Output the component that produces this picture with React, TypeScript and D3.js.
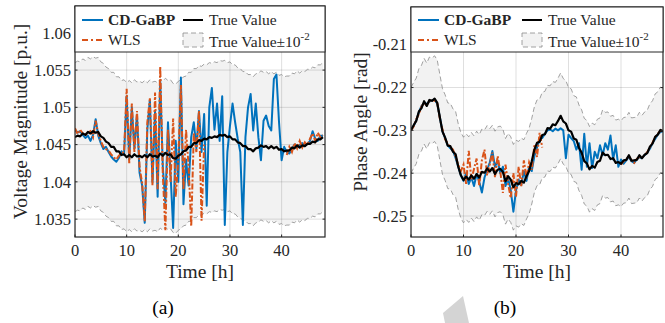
import React, { useEffect, useRef } from 'react'
import * as d3 from 'd3'

// every series is sampled each half hour, t = 0 ... 48 h
const STEP_H = 0.5
const BAND = 0.01 // legend: True Value ± 10^-2

// (a) voltage magnitude [p.u.]
const vmTrue = [
  1.0460, 1.0462, 1.0461, 1.0465, 1.0463, 1.0467, 1.0465, 1.0468, 1.0466, 1.0467,
  1.0461, 1.0459, 1.0454, 1.0452, 1.0447, 1.0447, 1.0441, 1.0441, 1.0436, 1.0437,
  1.0433, 1.0436, 1.0433, 1.0437, 1.0434, 1.0435, 1.0433, 1.0436, 1.0433, 1.0437,
  1.0434, 1.0435, 1.0433, 1.0438, 1.0435, 1.0439, 1.0436, 1.0437, 1.0432, 1.0431,
  1.0435, 1.0437, 1.0441, 1.0442, 1.0447, 1.0447, 1.0452, 1.0452, 1.0456, 1.0455,
  1.0458, 1.0457, 1.0460, 1.0459, 1.0461, 1.0460, 1.0463, 1.0462, 1.0463, 1.0460,
  1.0461, 1.0457, 1.0457, 1.0453, 1.0452, 1.0448, 1.0448, 1.0444, 1.0444, 1.0441,
  1.0445, 1.0446, 1.0449, 1.0447, 1.0448, 1.0445, 1.0448, 1.0445, 1.0447, 1.0443,
  1.0444, 1.0441, 1.0442, 1.0442, 1.0446, 1.0445, 1.0449, 1.0446, 1.0449, 1.0448,
  1.0451, 1.0451, 1.0454, 1.0453, 1.0457, 1.0457, 1.0460,
]
const vmGabp = [
  1.0470, 1.0466, 1.0468, 1.0463, 1.0459, 1.0462, 1.0455, 1.0463, 1.0484, 1.0462,
  1.0452, 1.0444, 1.0447, 1.0440, 1.0434, 1.0430, 1.0427, 1.0432, 1.0441, 1.0436,
  1.0515, 1.0430, 1.0500, 1.0445, 1.0490, 1.0412, 1.0395, 1.0345, 1.0470, 1.0510,
  1.0400, 1.0495, 1.0380, 1.0535, 1.0420, 1.0372, 1.0480, 1.0410, 1.0338, 1.0455,
  1.0400, 1.0540, 1.0370, 1.0430, 1.0395, 1.0460, 1.0480, 1.0445, 1.0495, 1.0440,
  1.0491, 1.0368, 1.0500, 1.0526, 1.0470, 1.0505, 1.0455, 1.0515, 1.0342, 1.0440,
  1.0475, 1.0505, 1.0480, 1.0458, 1.0440, 1.0342, 1.0460, 1.0500, 1.0518, 1.0469,
  1.0505, 1.0460, 1.0429, 1.0482, 1.0489, 1.0475, 1.0469, 1.0538, 1.0544, 1.0480,
  1.0429, 1.0447, 1.0440, 1.0438, 1.0444, 1.0450, 1.0446, 1.0449, 1.0452, 1.0448,
  1.0451, 1.0455, 1.0468, 1.0458, 1.0455, 1.0462, 1.0462,
]
// WLS has no estimate between 25.5 h and 40.5 h
const vmWls: (number | null)[] = [
  1.0472, 1.0464, 1.0470, 1.0465, 1.0462, 1.0466, 1.0468, 1.0460, 1.0482, 1.0465,
  1.0455, 1.0447, 1.0444, 1.0442, 1.0437, 1.0433, 1.0430, 1.0435, 1.0438, 1.0440,
  1.0525, 1.0425, 1.0505, 1.0440, 1.0495, 1.0420, 1.0398, 1.0347, 1.0480, 1.0512,
  1.0395, 1.0520, 1.0390, 1.0555, 1.0410, 1.0335, 1.0470, 1.0400, 1.0485, 1.0380,
  1.0430, 1.0530, 1.0390, 1.0470, 1.0420, 1.0340, 1.0465, 1.0440, 1.0495, 1.0348,
  1.0450, ...Array(31).fill(null),
  1.0436, 1.0447, 1.0440, 1.0452, 1.0445, 1.0455, 1.0446, 1.0453,
  1.0449, 1.0458, 1.0465, 1.0455, 1.0466, 1.0460, 1.0463,
]

// (b) phase angle [rad]
const paTrue = [
  -0.2300, -0.2288, -0.2278, -0.2256, -0.2248, -0.2232, -0.2243, -0.2229, -0.2231, -0.2226,
  -0.2236, -0.2270, -0.2303, -0.2317, -0.2336, -0.2337, -0.2350, -0.2356, -0.2385, -0.2405,
  -0.2416, -0.2408, -0.2415, -0.2405, -0.2413, -0.2402, -0.2410, -0.2397, -0.2399, -0.2389,
  -0.2396, -0.2388, -0.2402, -0.2392, -0.2390, -0.2397, -0.2419, -0.2407, -0.2415, -0.2433,
  -0.2423, -0.2426, -0.2418, -0.2422, -0.2407, -0.2395, -0.2372, -0.2345, -0.2329, -0.2327,
  -0.2311, -0.2309, -0.2295, -0.2296, -0.2286, -0.2288, -0.2278, -0.2266, -0.2279, -0.2284,
  -0.2300, -0.2303, -0.2319, -0.2322, -0.2341, -0.2352, -0.2372, -0.2377, -0.2391, -0.2383,
  -0.2387, -0.2374, -0.2371, -0.2352, -0.2358, -0.2357, -0.2367, -0.2365, -0.2376, -0.2374,
  -0.2378, -0.2370, -0.2369, -0.2358, -0.2371, -0.2370, -0.2369, -0.2358, -0.2365, -0.2357,
  -0.2353, -0.2338, -0.2331, -0.2315, -0.2310, -0.2299, -0.2302,
]
const paGabp = [
  -0.2298, -0.2290, -0.2276, -0.2258, -0.2243, -0.2237, -0.2238, -0.2233, -0.2230, -0.2228,
  -0.2238, -0.2270, -0.2302, -0.2318, -0.2335, -0.2342, -0.2348, -0.2365, -0.2385, -0.2405,
  -0.2418, -0.2400, -0.2425, -0.2410, -0.2430, -0.2402, -0.2420, -0.2445, -0.2410, -0.2392,
  -0.2375, -0.2348, -0.2385, -0.2370, -0.2400, -0.2385, -0.2430, -0.2412, -0.2440, -0.2490,
  -0.2440, -0.2415, -0.2428, -0.2395, -0.2418, -0.2385, -0.2395, -0.2360, -0.2340, -0.2320,
  -0.2318, -0.2308, -0.2300, -0.2298, -0.2302, -0.2296, -0.2300, -0.2295, -0.2300, -0.2365,
  -0.2310, -0.2318, -0.2325, -0.2345, -0.2330, -0.2392, -0.2308, -0.2385, -0.2330, -0.2388,
  -0.2350, -0.2365, -0.2335, -0.2358, -0.2330, -0.2345, -0.2312, -0.2368, -0.2335, -0.2385,
  -0.2368, -0.2378, -0.2370, -0.2362, -0.2372, -0.2376, -0.2368, -0.2363, -0.2365, -0.2358,
  -0.2352, -0.2343, -0.2330, -0.2320, -0.2310, -0.2304, -0.2302,
]
const paWls: (number | null)[] = [
  -0.2300, -0.2291, -0.2274, -0.2262, -0.2244, -0.2236, -0.2242, -0.2231, -0.2229, -0.2231,
  -0.2236, -0.2273, -0.2298, -0.2321, -0.2331, -0.2340, -0.2345, -0.2362, -0.2380, -0.2395,
  -0.2380, -0.2425, -0.2348, -0.2415, -0.2390, -0.2366, -0.2430, -0.2370, -0.2345, -0.2405,
  -0.2380, -0.2352, -0.2410, -0.2360, -0.2395, -0.2446, -0.2380, -0.2425, -0.2458, -0.2400,
  -0.2455, -0.2385, -0.2430, -0.2370, -0.2412, -0.2375, -0.2392, -0.2335, -0.2362, -0.2306,
  -0.2340, ...Array(29).fill(null),
  -0.2380, -0.2372, -0.2368, -0.2360, -0.2370, -0.2376, -0.2367, -0.2362, -0.2364, -0.2358,
  -0.2351, -0.2340, -0.2329, -0.2316, -0.2308, -0.2301, -0.2299,
]

const timeTicks = [0, 10, 20, 30, 40]
const vmTicks = [1.035, 1.04, 1.045, 1.05, 1.055, 1.06]
const vmTickLabels = ['1.035', '1.04', '1.045', '1.05', '1.055', '1.06']
const paTicks = [-0.25, -0.24, -0.23, -0.22, -0.21]
const paTickLabels = ['-0.25', '-0.24', '-0.23', '-0.22', '-0.21']

const BLUE = '#0072BD', ORANGE = '#D95319', AXIS = '#262626'
const FONT = '"Liberation Serif", "Times New Roman", serif'

const panels = [
  { left: 75, right: 325, top: 6, bottom: 237, xMax: 48.4, yDom: [1.0326, 1.0636],
    truth: vmTrue, gabp: vmGabp, wls: vmWls, ticks: vmTicks, tickLabels: vmTickLabels,
    yLabel: 'Voltage Magnitude [p.u.]', yLabelX: 27, tag: '(a)', tagX: 163, col2: 108 },
  { left: 411, right: 663, top: 7, bottom: 237, xMax: 48, yDom: [-0.2549, -0.2012],
    truth: paTrue, gabp: paGabp, wls: paWls, ticks: paTicks, tickLabels: paTickLabels,
    yLabel: 'Phase Angle [rad]', yLabelX: 367, tag: '(b)', tagX: 505, col2: 111 },
]

function drawPanel(svg, p, idx) {
  const x = d3.scaleLinear().domain([0, p.xMax]).range([p.left, p.right])
  const y = d3.scaleLinear().domain(p.yDom).range([p.bottom, p.top])
  const g = svg.append('g')
  const clipId = `clip${idx}`
  g.append('clipPath').attr('id', clipId).append('rect')
    .attr('x', p.left).attr('y', p.top).attr('width', p.right - p.left).attr('height', p.bottom - p.top)

  g.append('rect').attr('x', p.left).attr('y', p.top).attr('width', p.right - p.left)
    .attr('height', p.bottom - p.top).attr('fill', '#fff')

  const plot = g.append('g').attr('clip-path', `url(#${clipId})`)
  const tx = (_, i) => x(i * STEP_H)

  // band
  plot.append('path').datum(p.truth)
    .attr('d', d3.area().x(tx).y0(d => y(d - BAND)).y1(d => y(d + BAND)))
    .attr('fill', '#f2f2f2')

  // grid
  plot.selectAll('.gx').data(timeTicks).join('line')
    .attr('x1', d => x(d)).attr('x2', d => x(d)).attr('y1', p.top).attr('y2', p.bottom)
    .attr('stroke', 'rgba(38,38,38,0.15)').attr('stroke-width', 1)
  plot.selectAll('.gy').data(p.ticks).join('line')
    .attr('y1', d => y(d)).attr('y2', d => y(d)).attr('x1', p.left).attr('x2', p.right)
    .attr('stroke', 'rgba(38,38,38,0.15)').attr('stroke-width', 1)

  for (const s of [1, -1]) {
    plot.append('path').datum(p.truth)
      .attr('d', d3.line().x(tx).y(d => y(d + s * BAND)))
      .attr('fill', 'none').attr('stroke', '#8a8a8a').attr('stroke-width', 0.8)
      .attr('stroke-dasharray', '5 3')
  }

  const line = d3.line().defined(d => d != null).x(tx).y(d => y(d))
  plot.append('path').datum(p.gabp).attr('d', line)
    .attr('fill', 'none').attr('stroke', BLUE).attr('stroke-width', 2).attr('stroke-linejoin', 'round')
  plot.append('path').datum(p.wls).attr('d', line)
    .attr('fill', 'none').attr('stroke', ORANGE).attr('stroke-width', 2).attr('stroke-dasharray', '6 2 2 2')
  plot.append('path').datum(p.truth).attr('d', line)
    .attr('fill', 'none').attr('stroke', '#000').attr('stroke-width', 2.2).attr('stroke-linejoin', 'round')

  // ticks (inward, all four sides)
  const tl = 2.5
  timeTicks.forEach(t => {
    g.append('line').attr('x1', x(t)).attr('x2', x(t)).attr('y1', p.bottom).attr('y2', p.bottom - tl).attr('stroke', AXIS)
    g.append('line').attr('x1', x(t)).attr('x2', x(t)).attr('y1', p.top).attr('y2', p.top + tl).attr('stroke', AXIS)
    g.append('text').attr('x', x(t)).attr('y', 256).attr('text-anchor', 'middle')
      .attr('font-family', FONT).attr('font-size', 16.5).attr('fill', AXIS).text(t)
  })
  p.ticks.forEach((t, i) => {
    g.append('line').attr('x1', p.left).attr('x2', p.left + tl).attr('y1', y(t)).attr('y2', y(t)).attr('stroke', AXIS)
    g.append('line').attr('x1', p.right).attr('x2', p.right - tl).attr('y1', y(t)).attr('y2', y(t)).attr('stroke', AXIS)
    g.append('text').attr('x', p.left - 4).attr('y', y(t)).attr('dy', '0.35em').attr('text-anchor', 'end')
      .attr('font-family', FONT).attr('font-size', 16.5).attr('fill', AXIS).text(p.tickLabels[i])
  })

  g.append('rect').attr('x', p.left).attr('y', p.top).attr('width', p.right - p.left)
    .attr('height', p.bottom - p.top).attr('fill', 'none').attr('stroke', AXIS).attr('stroke-width', 1.2)

  // legend
  const lg = g.append('g')
  lg.append('rect').attr('x', p.left).attr('y', p.top).attr('width', p.right - p.left)
    .attr('height', 52 - p.top).attr('fill', '#fff').attr('stroke', AXIS).attr('stroke-width', 1)
  const c1 = p.left + 7, c2 = p.left + p.col2
  lg.append('line').attr('x1', c1).attr('x2', c1 + 21).attr('y1', 20).attr('y2', 20)
    .attr('stroke', BLUE).attr('stroke-width', 2)
  lg.append('text').attr('x', c1 + 26).attr('y', 25).attr('font-family', FONT).attr('font-size', 15.5)
    .attr('font-weight', 'bold').attr('fill', AXIS).text('CD-GaBP')
  lg.append('line').attr('x1', c1).attr('x2', c1 + 21).attr('y1', 40).attr('y2', 40)
    .attr('stroke', ORANGE).attr('stroke-width', 2).attr('stroke-dasharray', '6 3 2 3')
  lg.append('text').attr('x', c1 + 26).attr('y', 45).attr('font-family', FONT).attr('font-size', 15.5)
    .attr('fill', AXIS).text('WLS')
  lg.append('line').attr('x1', c2).attr('x2', c2 + 20).attr('y1', 20).attr('y2', 20)
    .attr('stroke', '#000').attr('stroke-width', 2)
  lg.append('text').attr('x', c2 + 26).attr('y', 25).attr('font-family', FONT).attr('font-size', 15.5)
    .attr('fill', AXIS).text('True Value')
  lg.append('rect').attr('x', c2).attr('y', 33).attr('width', 20).attr('height', 14)
    .attr('fill', '#f2f2f2').attr('stroke', '#8a8a8a').attr('stroke-width', 0.8).attr('stroke-dasharray', '5 3')
  const bt = lg.append('text').attr('x', c2 + 26).attr('y', 47).attr('font-family', FONT)
    .attr('font-size', 15.5).attr('fill', AXIS)
  bt.append('tspan').text('True Value\u00B110')
  bt.append('tspan').attr('dy', -7).attr('font-size', 11).text('-2')

  // axis labels
  g.append('text').attr('x', (p.left + p.right) / 2).attr('y', 278).attr('text-anchor', 'middle')
    .attr('font-family', FONT).attr('font-size', 19.5).attr('fill', AXIS).text('Time [h]')
  const cy = (p.top + p.bottom) / 2
  g.append('text').attr('transform', `translate(${p.yLabelX},${cy}) rotate(-90)`).attr('text-anchor', 'middle')
    .attr('font-family', FONT).attr('font-size', 19.5).attr('fill', AXIS).text(p.yLabel)
  g.append('text').attr('x', p.tagX).attr('y', 314).attr('text-anchor', 'middle')
    .attr('font-family', FONT).attr('font-size', 19.5).attr('fill', '#000').text(p.tag)
}

export default function App() {
  const svgRef = useRef(null)
  useEffect(() => {
    const svg = d3.select(svgRef.current)
    svg.selectAll('*').remove()
    svg.append('rect').attr('width', 665).attr('height', 323).attr('fill', '#fff')
    panels.forEach((p, i) => drawPanel(svg, p, i))
    // grey mark under panel (b)
    svg.append('polygon').attr('points', '443,313 463,296 469,323 445,323').attr('fill', '#d4d4d4')
  }, [])
  return (
    <svg ref={svgRef} width={665} height={323} style={{ position: 'absolute', left: 0, top: 0 }} />
  )
}
